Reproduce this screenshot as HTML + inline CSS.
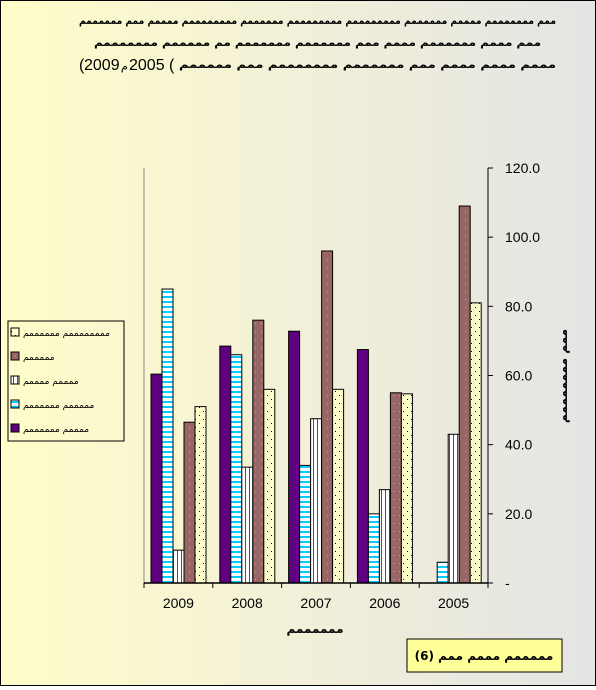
<!DOCTYPE html>
<html><head><meta charset="utf-8"><style>
body{margin:0;width:596px;height:686px;overflow:hidden;font-family:"Liberation Sans","DejaVu Sans",sans-serif}
#wrap{position:absolute;left:0;top:0;width:594px;height:684px;border:1px solid #000;background:linear-gradient(90deg,#fffdc8 0%,#f2f0d8 50%,#e4e4e4 100%)}
</style></head><body>
<div id="wrap">
<svg id="svg" width="594" height="684" xmlns="http://www.w3.org/2000/svg">
<defs>
<pattern id="pCyan" width="4" height="5" patternUnits="userSpaceOnUse"><rect width="4" height="5" fill="#fff"/><rect y="0" width="4" height="2" fill="#00ccff"/></pattern>
<pattern id="pWhite" width="4" height="4" patternUnits="userSpaceOnUse"><rect width="4" height="4" fill="#fff"/><rect x="0" width="1" height="4" fill="#993333"/></pattern>
<pattern id="pGray" width="6" height="8" patternUnits="userSpaceOnUse"><rect width="6" height="8" fill="#996666"/><rect x="2" y="2" width="1" height="1" fill="#00ffff"/></pattern>
<pattern id="pYellow" width="8" height="8" patternUnits="userSpaceOnUse"><rect width="8" height="8" fill="#ffffcc"/><rect x="2" y="2" width="1" height="1" fill="#000"/><rect x="6" y="6" width="1" height="1" fill="#000"/></pattern>
</defs>
<g font-family="DejaVu Sans, sans-serif" font-weight="bold" font-size="11" fill="#000">
<text x="78" y="23" textLength="477" lengthAdjust="spacingAndGlyphs" direction="rtl" unicode-bidi="bidi-override" text-anchor="end">ممم مممممممم ممممم ممممممم ممممممممم ممممممممم ممممممم ممممممممم ممممم ممم ممممممم</text>
<text x="93" y="45" textLength="447" lengthAdjust="spacingAndGlyphs" direction="rtl" unicode-bidi="bidi-override" text-anchor="end">ممم مممم ممممممم مممم ممم ممممممم ممممممم مم مممممم مممممممم</text>
<text x="178" y="67" textLength="377" lengthAdjust="spacingAndGlyphs" direction="rtl" unicode-bidi="bidi-override" text-anchor="end">مممم مممم مممم ممم ممممممم مممممممم ممم مممممم</text>
</g>
<g font-family="Liberation Sans, sans-serif" font-size="16" fill="#000">
<text x="78" y="69">(</text>
<text x="83" y="69">2009</text>
<text x="120" y="69" font-family="DejaVu Sans, sans-serif" font-size="11">م</text>
<text x="128" y="69">2005</text>
<text x="168" y="69">(</text>
</g>
<g id="plot"></g>
<rect x="406" y="638" width="155" height="33" fill="#ffff99" stroke="#000" stroke-width="1"/>
<text x="483" y="659" text-anchor="middle" font-family="DejaVu Sans, sans-serif" font-weight="bold" font-size="12">(6) مممممم مممم ممم</text>
</svg>
</div>
<script>
const categories=["2009","2008","2007","2006","2005"];
const seriesNames=["ممممممممم ممممممم","مممممم","ممممم ممممم","مممممم ممممممم","ممممم ممممممم"];
const purple=[60.4,68.5,72.8,67.5,0];
const cyan=[85,66,34,20,6];
const white=[9.5,33.5,47.5,27,43];
const gray=[46.5,76,96,55,109];
const yellow=[51,56,56,54.7,81];
const yTicks=[0,20,40,60,80,100,120];
const yTickLabels=["-","20.0","40.0","60.0","80.0","100.0","120.0"];

const NS="http://www.w3.org/2000/svg";
const g=document.getElementById('plot');
const X0=143,X1=487,Y0=582,Y1=167;
const y=v=>Y0-(v/120)*(Y0-Y1);
const gw=(X1-X0)/categories.length;
const gx=i=>X0+i*gw;
function mk(t,a){const e=document.createElementNS(NS,t);for(const k in a)e.setAttribute(k,a[k]);g.appendChild(e);return e;}
let e=mk('line',{x1:X0,y1:Y1,x2:X0,y2:Y0,stroke:'#888','stroke-width':1});


const series=[[purple,'#5f0080'],[cyan,'url(#pCyan)'],[white,'url(#pWhite)'],[gray,'url(#pGray)'],[yellow,'url(#pYellow)']];
const sKeys=['purple','cyan','white','gray','yellow'];
categories.forEach((c,i)=>{
  series.forEach((s,j)=>{
    const v=s[0][i];
    if(v<=0)return;
    const b=mk('rect',{x:gx(i)+7+j*11,y:y(v),width:11,height:Y0-y(v),fill:s[1],stroke:'#000','stroke-width':1});
    
    
  });
  const t=mk('text',{x:gx(i)+gw/2,y:607,'text-anchor':'middle','font-size':14,'font-family':'Liberation Sans, sans-serif'});
  t.textContent=c;
  
  
});
for(let i=0;i<=categories.length;i++){mk('line',{x1:gx(i),y1:Y0,x2:gx(i),y2:Y0+5,stroke:'#000'});}
e=mk('line',{x1:X0,y1:Y0,x2:X1,y2:Y0,stroke:'#000','stroke-width':1.5});


e=mk('line',{x1:X1,y1:Y1,x2:X1,y2:Y0,stroke:'#000','stroke-width':1});


yTicks.forEach((v,k)=>{
  mk('line',{x1:X1,y1:y(v),x2:X1+5,y2:y(v),stroke:'#000'});
  const t=mk('text',{x:504,y:y(v)+5,'font-size':14,'font-family':'Liberation Sans, sans-serif'});
  t.textContent=yTickLabels[k];
  
  
});
let t=mk('text',{x:0,y:0,'text-anchor':'middle','font-size':12,'font-weight':'bold','font-family':'DejaVu Sans, sans-serif',transform:'translate(566,375) rotate(-90)'});
t.textContent='ممم مممممممم';


t=mk('text',{x:314,y:632,'text-anchor':'middle','font-size':12,'font-weight':'bold','font-family':'DejaVu Sans, sans-serif'});
t.textContent='ممممممم';


const lg=mk('rect',{x:7,y:320,width:116,height:120,fill:'none',stroke:'#000','stroke-width':1});


const legFill=['url(#pYellow)','url(#pGray)','url(#pWhite)','url(#pCyan)','#5f0080'];
seriesNames.forEach((n,k)=>{
  const yy=327+k*24;
  const sw=mk('rect',{x:10,y:yy,width:8,height:8,fill:legFill[k],stroke:'#000'});
  
  
  const lt=mk('text',{x:22,y:yy+8,'font-size':9,'font-family':'DejaVu Sans, sans-serif',direction:'rtl','text-anchor':'end'});
  lt.textContent=n;
  
  
});
</script>
</body></html>
